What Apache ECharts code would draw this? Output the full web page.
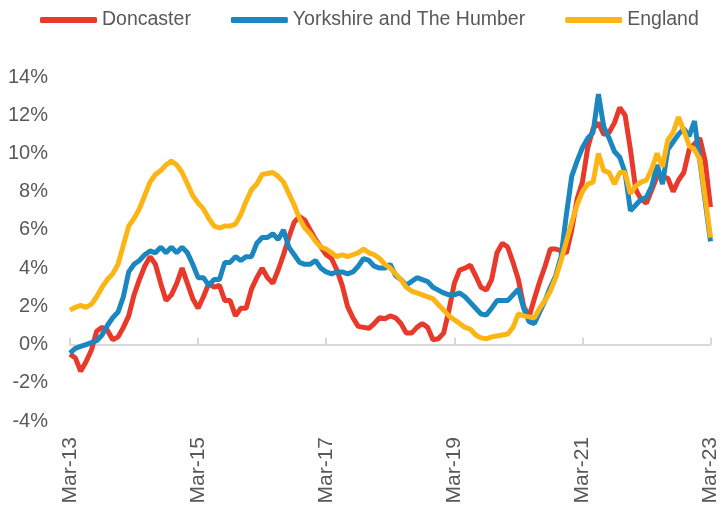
<!DOCTYPE html>
<html>
<head>
<meta charset="utf-8">
<script src="https://cdn.jsdelivr.net/npm/echarts@6/dist/echarts.min.js"></script>
<style>
  html, body { margin: 0; padding: 0; background: #fff; }
  #chart { width: 721px; height: 511px; }
</style>
</head>
<body>
<div id="chart"></div>
<script>
// monthly, Mar-13 .. Mar-23
var monthNames = ['Jan', 'Feb', 'Mar', 'Apr', 'May', 'Jun', 'Jul', 'Aug', 'Sep', 'Oct', 'Nov', 'Dec']
var categories = []
for (var k = 0; k < 121; k++) {
  var m = (2 + k) % 12
  var y = 13 + Math.floor((2 + k) / 12)
  categories.push(monthNames[m] + '-' + y)
}

var doncaster = [
  -0.5, -0.7, -1.4, -0.9, -0.3, 0.7, 0.9, 0.75, 0.25, 0.4,
  0.9, 1.5, 2.6, 3.4, 4.1, 4.6, 4.2, 3.2, 2.3, 2.6,
  3.2, 4.0, 3.2, 2.4, 1.9, 2.5, 3.2, 3.0, 3.1, 2.3,
  2.3, 1.5, 1.9, 1.9, 2.9, 3.5, 4.0, 3.5, 3.2, 3.9,
  4.7, 5.6, 6.4, 6.7, 6.5, 6.0, 5.5, 5.1, 4.7, 4.5,
  3.9, 3.1, 2.0, 1.4, 0.95, 0.9, 0.85, 1.1, 1.4, 1.35,
  1.5, 1.4, 1.1, 0.6, 0.6, 0.9, 1.1, 0.9, 0.25, 0.3,
  0.6, 1.8, 3.2, 3.9, 4.0, 4.15, 3.6, 3.0, 2.85, 3.4,
  4.8, 5.3, 5.1, 4.3, 3.4, 2.0, 1.45, 2.4, 3.3, 4.1,
  5.0, 5.0, 4.9, 4.8, 6.0, 7.6, 8.5, 10.3, 11.3, 11.6,
  11.0, 11.1, 11.6, 12.4, 12.0, 10.2, 8.1, 7.6, 7.4, 8.1,
  8.8, 8.8, 8.7, 8.0, 8.6, 9.0, 10.2, 10.5, 10.8, 9.6,
  7.2
]

var yorkshire = [
  -0.45, -0.2, -0.1, 0.0, 0.1, 0.2, 0.5, 1.0, 1.4, 1.7,
  2.5, 3.8, 4.2, 4.4, 4.7, 4.9, 4.8, 5.1, 4.8, 5.1,
  4.8, 5.1, 4.8, 4.2, 3.5, 3.5, 3.1, 3.4, 3.4, 4.3,
  4.3, 4.6, 4.4, 4.6, 4.6, 5.3, 5.6, 5.6, 5.8, 5.5,
  6.0, 5.1, 4.7, 4.3, 4.2, 4.2, 4.4, 4.0, 3.8, 3.7,
  3.8, 3.8, 3.7, 3.8, 4.1, 4.5, 4.4, 4.1, 4.0, 4.0,
  4.2, 3.6, 3.4, 3.1, 3.3, 3.5, 3.4, 3.3, 3.0, 2.85,
  2.7, 2.6, 2.6, 2.7, 2.5, 2.2, 1.9, 1.6, 1.55, 1.9,
  2.3, 2.3, 2.3, 2.6, 2.9, 1.9, 1.2, 1.1, 1.7, 2.3,
  3.0, 3.6, 4.6, 6.8, 8.8, 9.6, 10.3, 10.8, 11.1, 13.1,
  11.4, 10.8, 10.1, 9.8, 9.0, 7.0, 7.3, 7.6, 7.7, 8.3,
  9.4, 8.4, 10.2, 10.6, 11.0, 11.3, 10.9, 11.7, 9.6, 7.5,
  5.4
]

var england = [
  1.8, 1.95, 2.05, 1.95, 2.1, 2.5, 3.0, 3.4, 3.7, 4.2,
  5.2, 6.2, 6.6, 7.1, 7.8, 8.5, 8.9, 9.1, 9.4, 9.6,
  9.4, 9.0, 8.4, 7.8, 7.4, 7.1, 6.6, 6.2, 6.1, 6.2,
  6.2, 6.3, 6.8, 7.5, 8.1, 8.4, 8.9, 8.95, 9.0, 8.8,
  8.5, 7.9, 7.3, 6.6, 6.1, 5.8, 5.4, 5.1, 5.0, 4.8,
  4.6, 4.7, 4.6, 4.7, 4.8, 5.0, 4.8, 4.7, 4.5, 4.2,
  4.0, 3.7, 3.4, 3.0, 2.8, 2.7, 2.6, 2.5, 2.4, 2.1,
  1.8, 1.5, 1.3, 1.1, 0.9, 0.8, 0.5, 0.35, 0.3, 0.4,
  0.45, 0.5, 0.55, 0.9, 1.6, 1.5, 1.45, 1.4, 1.9, 2.3,
  2.8, 3.5, 4.4, 5.4, 6.4, 7.3, 8.0, 8.4, 8.5, 10.0,
  9.1, 9.0, 8.4, 9.0, 9.0, 7.9, 8.3, 8.5, 8.6, 9.2,
  10.0, 9.3, 10.7, 11.1, 11.9, 11.2, 10.4, 10.2, 9.7, 7.7,
  5.6
]

var yTicks = { min: -4, max: 14, interval: 2 }

var chart = echarts.init(document.getElementById('chart'))

chart.setOption({
  animation: false,
  color: ['#E8392B', '#1B87C0', '#FDB515'],
  legend: {
    left: 35,
    top: 5,
    icon: 'roundRect',
    itemWidth: 57,
    itemHeight: 6,
    itemGap: 40,
    textStyle: {
      fontFamily: 'Liberation Sans',
      fontSize: 19.5,
      color: '#595959'
    },
    data: ['Doncaster', 'Yorkshire and The Humber', 'England']
  },
  grid: {
    left: 70,
    right: 9,
    top: 77,
    bottom: 90
  },
  xAxis: [
    {
      type: 'category',
      boundaryGap: false,
      data: categories,
      axisLine: { show: false, onZero: false },
      axisTick: { show: false },
      axisLabel: {
        interval: 23,
        rotate: 90,
        margin: 16,
        fontFamily: 'Liberation Sans',
        fontSize: 21,
        color: '#595959'
      }
    },
    {
      type: 'category',
      boundaryGap: false,
      data: categories,
      axisLine: {
        onZero: true,
        lineStyle: { color: '#D9D9D9', width: 2 }
      },
      axisTick: {
        interval: 23,
        length: 7,
        lineStyle: { color: '#D9D9D9', width: 2 }
      },
      axisLabel: { show: false }
    }
  ],
  yAxis: {
    type: 'value',
    min: yTicks.min,
    max: yTicks.max,
    interval: yTicks.interval,
    axisLine: { show: false },
    axisTick: { show: false },
    splitLine: { show: false },
    axisLabel: {
      formatter: '{value}%',
      margin: 22,
      fontFamily: 'Liberation Sans',
      fontSize: 20,
      color: '#595959'
    }
  },
  series: [
    {
      name: 'Doncaster',
      type: 'line',
      data: doncaster,
      symbol: 'none',
      lineStyle: { width: 5 }
    },
    {
      name: 'Yorkshire and The Humber',
      type: 'line',
      data: yorkshire,
      symbol: 'none',
      lineStyle: { width: 5 }
    },
    {
      name: 'England',
      type: 'line',
      data: england,
      symbol: 'none',
      lineStyle: { width: 5 }
    }
  ]
})
</script>
</body>
</html>
